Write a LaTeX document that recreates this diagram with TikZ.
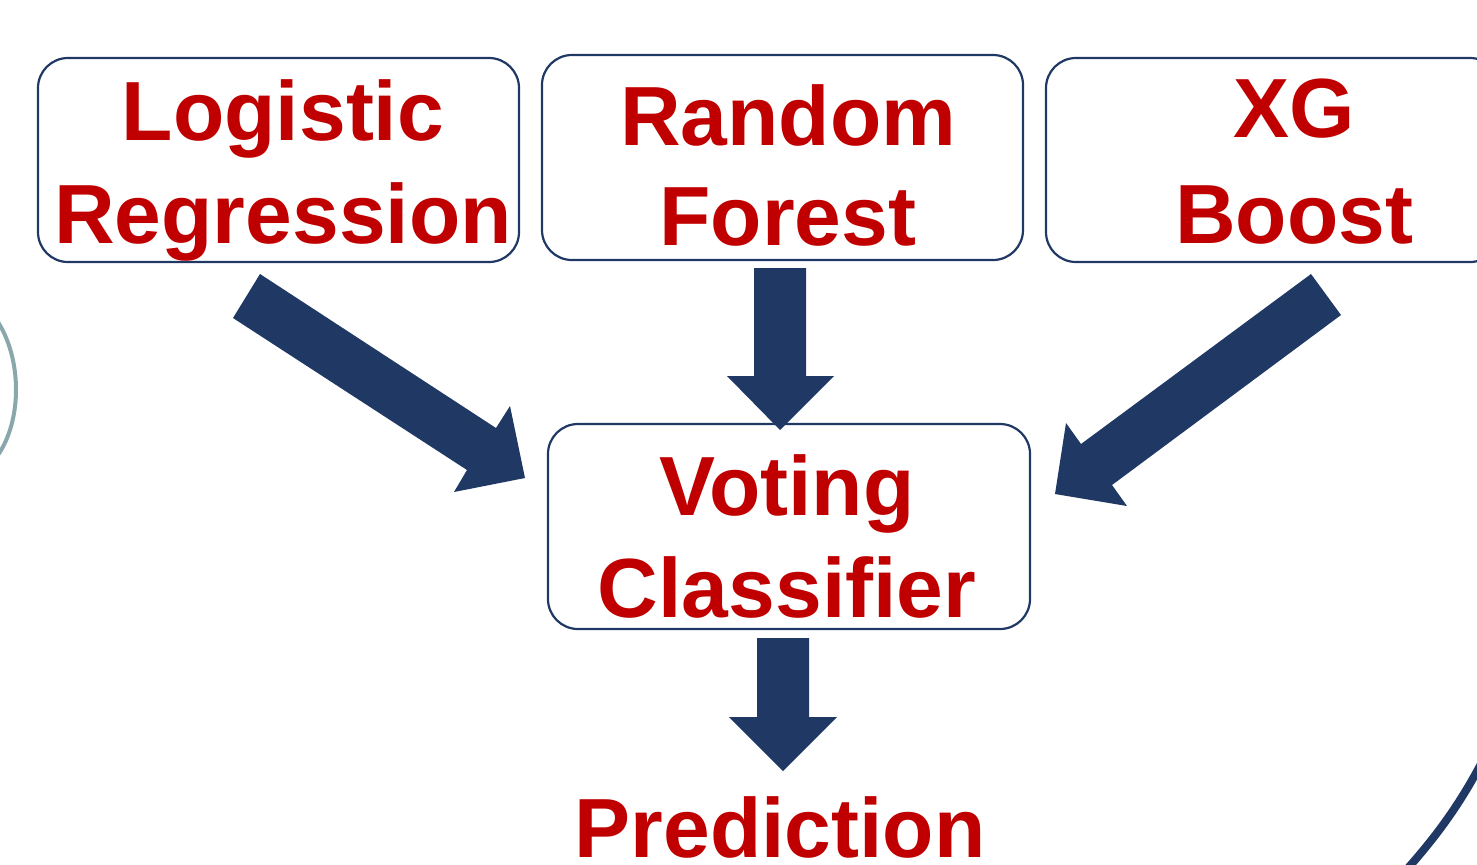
\documentclass[tikz,border=0pt]{standalone}
\usepackage{fontspec}
\setmainfont{Liberation Sans}
\definecolor{navy}{HTML}{203864}
\definecolor{txtred}{HTML}{C00000}
\definecolor{arcgray}{HTML}{8AA8AC}
\begin{document}
\begin{tikzpicture}[x=0.5pt,y=-0.5pt,
  box/.style={draw=navy,line width=1.1pt,rounded corners=15pt},
  lbl/.style={anchor=base,text=txtred,font=\fontsize{42}{50}\selectfont\bfseries,inner sep=0pt},
  blockarrow/.style={fill=navy,draw=none}]
\useasboundingbox (0,0) rectangle (1477,864);
% boxes
\draw[box] (38,58) rectangle (519,262);
\draw[box] (542,55) rectangle (1023,260);
\draw[box] (1046,58) rectangle (1500,262);
\draw[box] (548,424) rectangle (1030,629);
% labels
\node[lbl] (lr1) at (283,140) {Logistic};
\node[lbl] (lr2) at (283,243) {Regression};
\node[lbl] (rf1) at (788,145) {Random};
\node[lbl] (rf2) at (788,245) {Forest};
\node[lbl] (xg1) at (1294,137) {XG};
\node[lbl] (xg2) at (1294,243) {Boost};
\node[lbl] (vc1) at (787,515) {Voting};
\node[lbl] (vc2) at (787,617) {Classifier};
\node[lbl] (pr) at (780,857) {Prediction};
% block arrows
\fill[blockarrow] (260,274) -- (496,428) -- (510,406) -- (525,478) -- (454,492) -- (467,470) -- (233,318) -- cycle;
\fill[blockarrow] (1311,274) -- (1341,315) -- (1112,485) -- (1127,506) -- (1055,494) -- (1066,423) -- (1081,444) -- cycle;
\fill[blockarrow] (754,268) -- (806,268) -- (806,376) -- (834,376) -- (780,430) -- (727,376) -- (754,376) -- cycle;
\fill[blockarrow] (757,638) -- (809,638) -- (809,717) -- (837,717) -- (783,771) -- (729,717) -- (757,717) -- cycle;
% decorative arcs
\draw[arcgray,line width=2pt] (-2,322) .. controls (22,360) and (22,420) .. (-2,455);
\draw[navy,line width=4pt] (1482,762) .. controls (1462,800) and (1440,832) .. (1408,868);
\end{tikzpicture}
\end{document}
